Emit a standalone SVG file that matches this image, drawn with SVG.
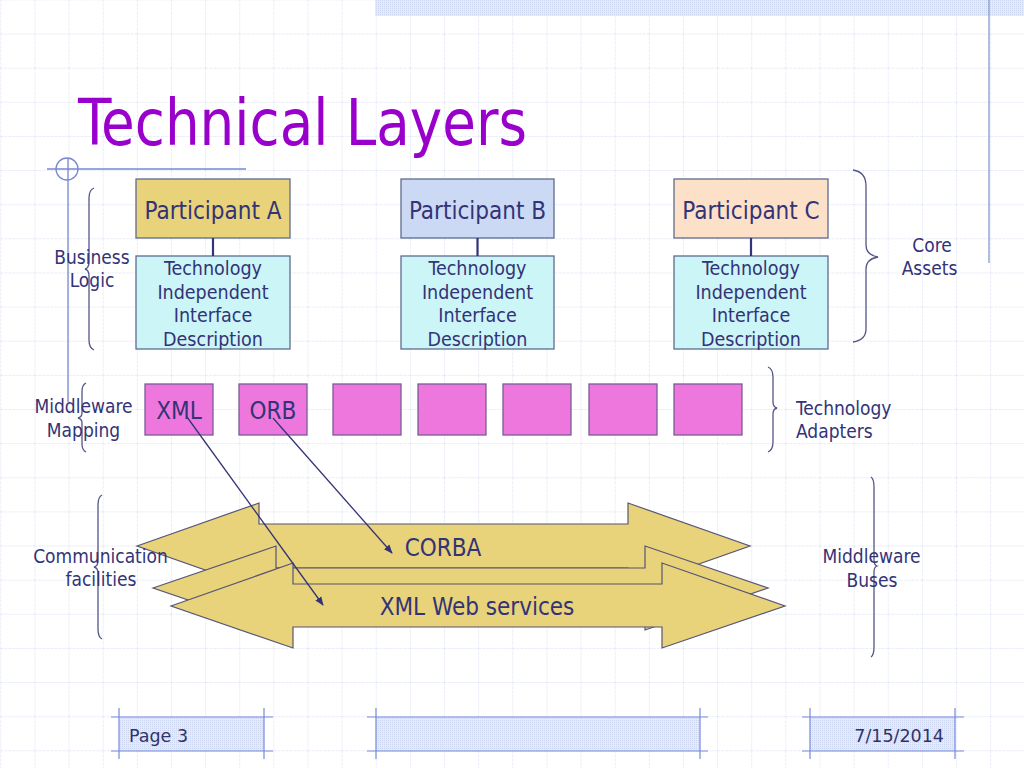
<svg xmlns="http://www.w3.org/2000/svg" width="1024" height="768" viewBox="0 0 1024 768">
<defs>
<pattern id="grid" patternUnits="userSpaceOnUse" x="0.3" y="-0.6" width="34.133" height="34.133">
<path d="M0,0 H34.133 M0,0 V34.133" fill="none" stroke="#E2E6F6" stroke-width="1.4" stroke-dasharray="3,1"/>
</pattern>
<pattern id="dots" patternUnits="userSpaceOnUse" width="2" height="2">
<rect width="2" height="2" fill="#E4EAF9"/>
<rect width="1" height="1" fill="#CCD6F0"/>
</pattern>
<marker id="ah" viewBox="0 0 10 10" refX="9" refY="5" markerWidth="9" markerHeight="9" orient="auto" markerUnits="userSpaceOnUse">
<path d="M0,1 L10,5 L0,9 Z" fill="#333377"/>
</marker>
<style>
.t{font-family:"DejaVu Sans Condensed","DejaVu Sans",sans-serif;font-stretch:condensed;fill:#333377;text-anchor:middle}
.p{font-size:24px}
.s{font-size:19.5px}
.l{font-size:19px}
.box{stroke:#5F6C8E;stroke-width:1.3}
.pk{fill:#EE77DD;stroke:#7A5C98;stroke-width:1.3}
.br{fill:none;stroke:#555588;stroke-width:1.3}
.bus{fill:#E8D27A;stroke:#555577;stroke-width:1.2}
.ft{font-family:"DejaVu Sans",sans-serif;font-size:17.5px;fill:#333366}
.fl{stroke:#7788DD;stroke-width:1.2}
</style>
</defs>
<rect width="1024" height="768" fill="#FFFFFF"/>
<rect width="1024" height="768" fill="url(#grid)"/>
<!-- decorations -->
<rect x="375" y="0" width="649" height="16" fill="url(#dots)"/>
<line x1="989" y1="0" x2="989" y2="263" stroke="#8899CC" stroke-width="1.3"/>
<line x1="47" y1="169" x2="246" y2="169" stroke="#7788CC" stroke-width="1.3"/>
<line x1="68" y1="158" x2="68" y2="402" stroke="#7788CC" stroke-width="1.3"/>
<circle cx="67" cy="169" r="11" fill="none" stroke="#7788CC" stroke-width="1.3"/>
<text x="78" y="145" font-family="DejaVu Sans Condensed, DejaVu Sans, sans-serif" font-size="64" fill="#9900CC" textLength="449" lengthAdjust="spacingAndGlyphs">Technical Layers</text>

<!-- buses -->
<g id="bus-corba">
<path class="bus" d="M137,546 L259,503 L259,524 L628,524 L628,503 L750,546 L628,589 L628,568 L259,568 L259,589 Z"/>
<text class="t p" x="443" y="556">CORBA</text>
</g>
<g id="bus-middle">
<path class="bus" d="M153,588 L276,546 L276,568 L645,568 L645,546 L768,588 L645,630 L645,608 L276,608 L276,630 Z"/>
</g>
<g id="bus-xmlws">
<path class="bus" d="M171,606 L293,563 L293,584 L662,584 L662,563 L785,606 L662,648 L662,627 L293,627 L293,648 Z"/>
<text class="t p" x="477" y="615">XML Web services</text>
</g>

<!-- participants -->
<g id="participant-a">
<rect class="box" x="136" y="179" width="154" height="59" fill="#E8D27A"/>
<text class="t p" x="213" y="219">Participant A</text>
</g>
<g id="tiid-a">
<rect class="box" x="136" y="256" width="154" height="93" fill="#CCF5F8"/>
<text class="t s" x="213" y="275">Technology</text>
<text class="t s" x="213" y="299">Independent</text>
<text class="t s" x="213" y="322">Interface</text>
<text class="t s" x="213" y="346">Description</text>
</g>
<g id="participant-b">
<rect class="box" x="401" y="179" width="153" height="59" fill="#CCD9F5"/>
<text class="t p" x="477.5" y="219">Participant B</text>
</g>
<g id="tiid-b">
<rect class="box" x="401" y="256" width="153" height="93" fill="#CCF5F8"/>
<text class="t s" x="477.5" y="275">Technology</text>
<text class="t s" x="477.5" y="299">Independent</text>
<text class="t s" x="477.5" y="322">Interface</text>
<text class="t s" x="477.5" y="346">Description</text>
</g>
<g id="participant-c">
<rect class="box" x="674" y="179" width="154" height="59" fill="#FDE0C8"/>
<text class="t p" x="751" y="219">Participant C</text>
</g>
<g id="tiid-c">
<rect class="box" x="674" y="256" width="154" height="93" fill="#CCF5F8"/>
<text class="t s" x="751" y="275">Technology</text>
<text class="t s" x="751" y="299">Independent</text>
<text class="t s" x="751" y="322">Interface</text>
<text class="t s" x="751" y="346">Description</text>
</g>

<!-- adapters -->
<g id="adapter-xml"><rect class="pk" x="145" y="384" width="68" height="51"/><text class="t p" x="179" y="419">XML</text></g>
<g id="adapter-orb"><rect class="pk" x="239" y="384" width="68" height="51"/><text class="t p" x="273" y="419">ORB</text></g>
<g id="adapter-3"><rect class="pk" x="333" y="384" width="68" height="51"/></g>
<g id="adapter-4"><rect class="pk" x="418" y="384" width="68" height="51"/></g>
<g id="adapter-5"><rect class="pk" x="503" y="384" width="68" height="51"/></g>
<g id="adapter-6"><rect class="pk" x="589" y="384" width="68" height="51"/></g>
<g id="adapter-7"><rect class="pk" x="674" y="384" width="68" height="51"/></g>

<!-- connectors -->
<g id="connectors" stroke="#333377" fill="none">
<line x1="213" y1="238" x2="213" y2="256" stroke-width="2.2"/>
<line x1="477.5" y1="238" x2="477.5" y2="256" stroke-width="2.2"/>
<line x1="751" y1="238" x2="751" y2="256" stroke-width="2.2"/>
<line x1="187" y1="417" x2="323" y2="605" stroke-width="1.3" marker-end="url(#ah)"/>
<line x1="273" y1="418" x2="392" y2="553" stroke-width="1.3" marker-end="url(#ah)"/>
</g>

<!-- braces -->
<g id="brace-business">
<path class="br" d="M94,188 Q89,190 89,198 L89,262 Q89,268 85,269 Q89,270 89,276 L89,340 Q89,348 94,350"/>
<text class="t l" x="92" y="264">Business</text>
<text class="t l" x="92" y="287">Logic</text>
</g>
<g id="brace-mapping">
<path class="br" d="M86,383 Q82,385 82,391 L82,413 Q82,417 78,418 Q82,419 82,423 L82,444 Q82,450 86,452"/>
<text class="t l" x="83.5" y="413">Middleware</text>
<text class="t l" x="83.5" y="437">Mapping</text>
</g>
<g id="brace-communication">
<path class="br" d="M102,495 Q98,497 98,505 L98,561 Q98,566 94,567 Q98,568 98,573 L98,629 Q98,637 102,639"/>
<text class="t l" x="100.5" y="563">Communication</text>
<text class="t l" x="101" y="586">facilities</text>
</g>
<g id="brace-core">
<path class="br" d="M853,170 Q866,172 866,186 L866,245 Q866,255 878,257 Q866,259 866,269 L866,329 Q866,340 853,342"/>
<text class="t l" x="932" y="252">Core</text>
<text class="t l" x="929.5" y="275">Assets</text>
</g>
<g id="brace-adapters">
<path class="br" d="M768,367 Q773,369 773,377 L773,402 Q773,407 777,408 Q773,409 773,414 L773,442 Q773,450 768,452"/>
<text class="t l" x="796" y="415" style="text-anchor:start">Technology</text>
<text class="t l" x="796" y="438" style="text-anchor:start">Adapters</text>
</g>
<g id="brace-buses">
<path class="br" d="M871,477 Q874,479 874,487 L874,560 Q874,565 877,566 Q874,567 874,572 L874,647 Q874,655 871,657"/>
<text class="t l" x="871.5" y="563">Middleware</text>
<text class="t l" x="872" y="587">Buses</text>
</g>

<!-- footer -->
<g id="footer">
<rect x="119" y="717" width="145" height="34" fill="url(#dots)"/>
<line class="fl" x1="111" y1="717" x2="273" y2="717"/>
<line class="fl" x1="111" y1="751" x2="273" y2="751"/>
<line class="fl" x1="119" y1="708" x2="119" y2="759"/>
<line class="fl" x1="264" y1="708" x2="264" y2="759"/>
<text class="ft" x="129" y="742">Page 3</text>
<rect x="376" y="717" width="324" height="34" fill="url(#dots)"/>
<line class="fl" x1="367" y1="717" x2="708" y2="717"/>
<line class="fl" x1="367" y1="751" x2="708" y2="751"/>
<line class="fl" x1="376" y1="708" x2="376" y2="759"/>
<line class="fl" x1="700" y1="708" x2="700" y2="759"/>
<rect x="810" y="717" width="145" height="34" fill="url(#dots)"/>
<line class="fl" x1="802" y1="717" x2="964" y2="717"/>
<line class="fl" x1="802" y1="751" x2="964" y2="751"/>
<line class="fl" x1="810" y1="708" x2="810" y2="759"/>
<line class="fl" x1="955" y1="708" x2="955" y2="759"/>
<text class="ft" x="944" y="742" text-anchor="end">7/15/2014</text>
</g>
</svg>
